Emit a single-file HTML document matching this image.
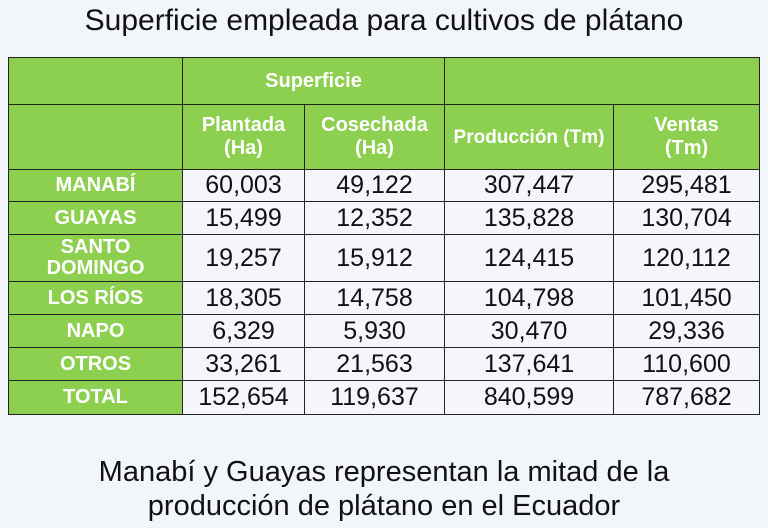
<!DOCTYPE html>
<html><head><meta charset="utf-8"><style>
body{margin:0;width:768px;height:528px;background:#f2f5fa;font-family:"Liberation Sans",sans-serif;position:relative;overflow:hidden}
.t{position:absolute;left:0;width:768px;text-align:center;color:#111}
table{position:absolute;left:8px;top:57px;border-collapse:collapse;table-layout:fixed}
td{border:1.5px solid #222;text-align:center;padding:0;font-size:25px;color:#111;background:#f4f6fb;overflow:hidden;white-space:nowrap}
td.g{background:#8dcf4f;color:#fff;font-weight:bold;font-size:20px;line-height:23px}
td.hp{font-size:19px}
</style></head><body>
<div class="t" style="top:4px;font-size:30px">Superficie empleada para cultivos de plátano</div>
<table>
<colgroup><col style="width:174px"><col style="width:122px"><col style="width:140px"><col style="width:169px"><col style="width:146px"></colgroup>
<tr style="height:47px"><td class="g"></td><td class="g" colspan="2">Superficie</td><td class="g" colspan="2"></td></tr>
<tr style="height:65px"><td class="g"></td><td class="g">Plantada<br>(Ha)</td><td class="g">Cosechada<br>(Ha)</td><td class="g hp">Producción (Tm)</td><td class="g">Ventas<br>(Tm)</td></tr>
<tr style="height:32px"><td class="g">MANABÍ</td><td>60,003</td><td>49,122</td><td>307,447</td><td>295,481</td></tr>
<tr style="height:33px"><td class="g">GUAYAS</td><td>15,499</td><td>12,352</td><td>135,828</td><td>130,704</td></tr>
<tr style="height:47px"><td class="g" style="line-height:21px">SANTO<br>DOMINGO</td><td>19,257</td><td>15,912</td><td>124,415</td><td>120,112</td></tr>
<tr style="height:33px"><td class="g">LOS RÍOS</td><td>18,305</td><td>14,758</td><td>104,798</td><td>101,450</td></tr>
<tr style="height:33px"><td class="g">NAPO</td><td>6,329</td><td>5,930</td><td>30,470</td><td>29,336</td></tr>
<tr style="height:33px"><td class="g">OTROS</td><td>33,261</td><td>21,563</td><td>137,641</td><td>110,600</td></tr>
<tr style="height:34px"><td class="g">TOTAL</td><td>152,654</td><td>119,637</td><td>840,599</td><td>787,682</td></tr>
</table>
<div class="t" style="top:455px;font-size:29px;line-height:34px">Manabí y Guayas representan la mitad de la<br>producción de plátano en el Ecuador</div>
</body></html>
